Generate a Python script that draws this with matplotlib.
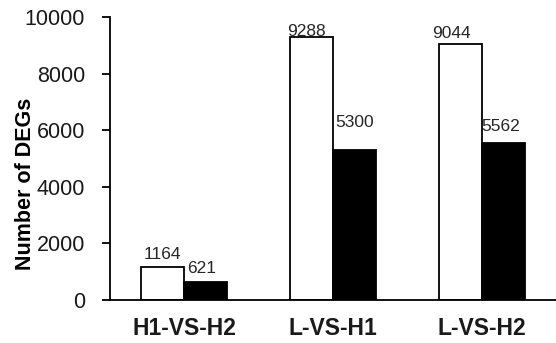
import matplotlib
matplotlib.use("Agg")
import matplotlib.pyplot as plt
import numpy as np

categories = ["H1-VS-H2", "L-VS-H1", "L-VS-H2"]
series_white = [1164, 9288, 9044]
series_black = [621, 5300, 5562]
yticks = [0, 2000, 4000, 6000, 8000, 10000]

plt.rcParams['font.family'] = ['Liberation Sans', 'DejaVu Sans']

fig = plt.figure(figsize=(5.56, 3.43), dpi=100)
ax = fig.add_axes([110/556, 1-300/343, 446/556, 283/343])

x = np.arange(len(categories))
w = 0.29
ax.bar(x - w/2, series_white, w, color="white", edgecolor="black", linewidth=1.3)
ax.bar(x + w/2, series_black, w, color="black", edgecolor="black", linewidth=1.3)

# label offsets in points (dx, dy) from bar top centre to text baseline
off_white = [(0, 5.8), (-3.6, 0.7), (-6, 4.3)]
off_black = [(-3, 6.5), (0, 16.5), (-1.5, 8.6)]
for i in range(len(categories)):
    ax.annotate(str(series_white[i]), (x[i] - w/2, series_white[i]), xytext=off_white[i],
                textcoords="offset points", ha="center", va="baseline", fontsize=12.5, color="#262626")
    ax.annotate(str(series_black[i]), (x[i] + w/2, series_black[i]), xytext=off_black[i],
                textcoords="offset points", ha="center", va="baseline", fontsize=12.5, color="#262626")

ax.set_xlim(-0.5, 2.5)
ax.set_ylim(0, 10000)
ax.set_yticks(yticks)
ax.set_yticklabels([str(t) for t in yticks], fontsize=15.5, color="#1a1a1a")
ax.set_xticks(x)
ax.set_xticklabels(categories, fontsize=16.5, fontweight="bold", color="#1a1a1a")
ax.tick_params(axis="x", length=0, pad=12)
ax.tick_params(axis="y", length=6, width=1.3, pad=12, direction="out")
ax.spines["top"].set_visible(False)
ax.spines["right"].set_visible(False)
ax.spines["left"].set_linewidth(1.3)
ax.spines["bottom"].set_linewidth(1.3)
ax.set_ylabel("Number of DEGs", fontsize=15.5, fontweight="bold")
ax.yaxis.set_label_coords(-0.166, 0.41)

fig.savefig("out.png", dpi=100)
